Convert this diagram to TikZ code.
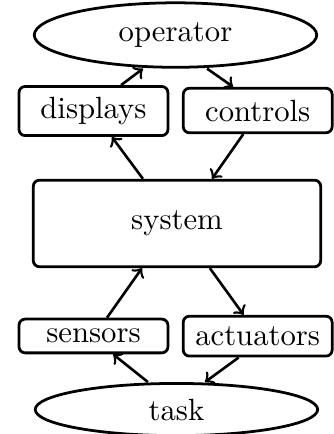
\documentclass[tikz,border=0pt]{standalone}
\usepackage{tikz}
\usetikzlibrary{shapes.geometric}

\begin{document}
\begin{tikzpicture}[
    agent/.style={draw, line width=0.9pt, ellipse, minimum width=92pt, inner xsep=2pt, inner ysep=0pt},
    part/.style={draw, line width=0.9pt, rounded corners=2pt, minimum width=48.5pt, inner xsep=3.5pt, inner ysep=0pt},
    flow/.style={->, line width=0.85pt}]
    \useasboundingbox (0,0) rectangle (3.812,4.968);
    \node[agent, minimum height=21pt] (operator) at (2.009,4.567) {operator};
    \node[part, minimum height=16pt] (displays) at (1.070,3.697) {displays};
    \node[part, minimum height=14.5pt] (controls) at (2.950,3.703) {controls};
    \node[draw, line width=0.9pt, rounded corners=2pt, minimum width=93.6pt, minimum height=28.2pt] (system) at (2.026,2.410) {system};
    \node[part, minimum height=11pt] (sensors) at (1.070,1.122) {sensors};
    \node[part, minimum height=13pt] (actuators) at (2.950,1.120) {actuators};
    \node[agent, minimum height=17pt] (task) at (2.020,0.280) {task};
    
    \foreach \s/\sx/\t/\tx in {displays.north/9/operator.south/-10.6, operator.south/10.3/controls.north/-8,
        system.north/-11.1/displays.south/6, controls.south/-4.7/system.north/11.4,
        sensors.north/4.4/system.south/-11.4, system.south/10.7/actuators.north/-4.6,
        task.north/-9.3/sensors.south/6.4, actuators.south/-6.2/task.north/9.3} {
        \draw[flow] ([xshift=\sx pt]\s) -- ([xshift=\tx pt]\t);
    }
\end{tikzpicture}
\end{document}
